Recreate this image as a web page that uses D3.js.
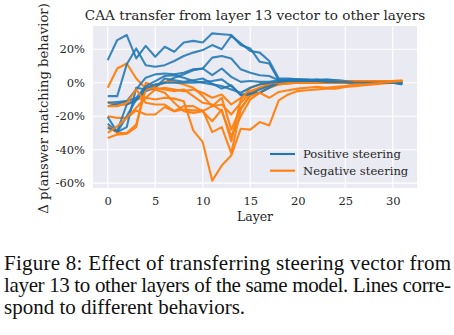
<!DOCTYPE html>
<html>
<head>
<meta charset="utf-8">
<script src="https://cdn.jsdelivr.net/npm/d3@7"></script>
<style>
  body { margin: 0; background: #fff; }
  svg { display: block; }
</style>
</head>
<body>
<div id="chart"></div>
<script>
// layers 0..31
const layers = d3.range(0, 32);

// positive steering, one row per behavior
const positive = [
  [13.5, 25.5, 28.5, 14.5, 22, 15.5, 21.5, 18.5, 24, 25, 24, 29.5, 29, 28.5, 22.5, 20.5, 12.5, 11.5, 1.5, 2, 2, 1.5, 2, 1.5, 1.5, 1, 1, 0.5, 0.5, 0, 0, -0.5],
  [-8, -8, 11, 20.5, 10.5, 9.5, 10.5, 13, 16, 18, 19.5, 22.5, 20, 28, 23.5, 19, 18, 13, 2.5, 2.5, 2, 2, 1.5, 2, 1.5, 1, 1, 1, 0.5, 0.5, 0, -0.5],
  [-14, -12.5, -11, -4, 3, 5, 5.5, 5, 6, 8, 8.5, 15, 16, 14.5, 8, 6, 4.5, 4, 1.5, 1, 1.5, 1, 1, 1, 0.5, 0.5, 0.5, 0, 0, 0, 0, -1],
  [-20.5, -29.5, -26.5, -3, -4, -2, 0, 3, 5, 7.5, 8.5, 4.5, 8.5, 3.5, 0.5, 1, 0.5, 0.5, 1.5, 1, 1, 1, 0.5, 0.5, 0.5, 0, 0, 0, 0, 0, 0, -0.5],
  [-24.5, -29.5, -20, -10, -5, -3, 2.5, 1.5, 0.5, 1.5, 2.5, -0.5, -3.5, -1.5, -7.5, -7, -4, -2, 0, 1, 1, 0.5, 0.5, 0.5, 0.5, 0, 0, 0, 0, 0, 0, 0],
  [-27, -29, -13, -10.5, -3, -1, 0, 0, 0, 0, 0.5, 1, 2, -2, -7, -6.5, -6, -3, 0, 0.5, 0.5, 0.5, 0.5, 0.5, 0, 0, 0, 0, 0, 0, 0, 0],
  [-12, -11.5, -11, -9, -2, 1, 4, 4.5, 3, 1, 0, -1, -2, -4, -6, -3, -1, 0, 0.5, 1, 1, 1, 1, 0.5, 0.5, 0.5, 0, 0, 0, 0, 0, 0]
];

// negative steering, same behaviors
const negative = [
  [-3, 8.5, 11.5, 2.5, -3.5, -4, -3, -4, -5, -4, -6, -9, -7, -13, -9, -5, -3, -2, -1, -0.5, 0, 0, 0.5, 0.5, 0.5, 0.5, 0.5, 0.5, 1, 1, 1, 1.5],
  [-11.5, -13.5, -13, -10, -9, -10, -9, -9.5, -11, -28.5, -35.5, -58.5, -49.5, -43.5, -27.5, -28, -23.5, -25.5, -10.5, -7, -5, -4.5, -4, -3.5, -3.5, -2.5, -2, -1.5, -1, -0.5, 0, 0.5],
  [-20, -21, -21, -16.5, -19, -19, -14.5, -17, -16, -16.5, -16.5, -29.5, -26.5, -42, -16, -7, -3, -1.5, -0.5, 0, 0, 0, 0, 0, 0.5, 0.5, 0.5, 1, 1, 1, 1, 1],
  [-33, -31, -30.5, -26.5, 0, -2, 0.5, 0.5, -1, -3, -8, -14, -13, -19, -12, -6, -3, -1, 0, 0.5, 0.5, 0.5, 0.5, 0.5, 0.5, 0.5, 1, 1, 1, 1, 1, 1],
  [-26, -30, -30, -25, -4, -3, -4, -5, -4, -8, -12, -13, -17, -32, -20, -10, -6, -3, -1, -0.5, 0, 0, 0, 0, 0, 0.5, 0.5, 0.5, 1, 1, 1, 1],
  [-30, -26, -21, -15, -9, -4, -6, -12, -17, -18, -17, -23, -16, -35, -10, -3, -1, -0.5, 0, 0, 0, 0, 0, 0, 0, 0, 0.5, 0.5, 0.5, 1, 1, 1],
  [-14, -14, -12, -4, -12, -13, -13, -17, -14, -14, -17, -14, -9, -28, -15, -8, -6, -9, -5.5, -4.5, -3.5, -3, -2.5, -3, -2.5, -2, -1, -1, -0.5, 0, 0.5, 1]
];

const xTicks = [0, 5, 10, 15, 20, 25, 30];
const yTicks = [-60, -40, -20, 0, 20];
const seriesNames = ["Positive steering", "Negative steering"];
const seriesColors = ["#1f77b4", "#ff7f0e"];

const captionLines = [
  "Figure 8: Effect of transferring steering vector from",
  "layer 13 to other layers of the same model. Lines corre-",
  "spond to different behaviors."
];

const W = 454, H = 335;
const margin = {top: 26, right: 37, bottom: 147, left: 93};
const width = W - margin.left - margin.right,
      height = H - margin.top - margin.bottom;

const svg = d3.select("#chart")
  .append("svg")
    .attr("width", W)
    .attr("height", H)
    .style("font-family", "'DejaVu Serif', serif");

const g = svg.append("g")
  .attr("transform", `translate(${margin.left},${margin.top})`);

// matplotlib-style 5% padding
const allVals = positive.flat().concat(negative.flat());
const yMin = d3.min(allVals), yMax = d3.max(allVals);
const yPad = (yMax - yMin) * 0.05;
const xPad = (d3.max(layers) - d3.min(layers)) * 0.05;

const x = d3.scaleLinear()
  .domain([d3.min(layers) - xPad, d3.max(layers) + xPad])
  .range([0, width]);

const y = d3.scaleLinear()
  .domain([yMin - yPad, yMax + yPad])
  .range([height, 0]);

g.append("rect")
  .attr("width", width)
  .attr("height", height)
  .attr("fill", "#eaeaf2");

// grid
g.selectAll(".xgrid")
  .data(xTicks)
  .enter().append("line")
    .attr("x1", d => x(d)).attr("x2", d => x(d))
    .attr("y1", 0).attr("y2", height)
    .attr("stroke", "#fff").attr("stroke-width", 1.1);

g.selectAll(".ygrid")
  .data(yTicks)
  .enter().append("line")
    .attr("y1", d => y(d)).attr("y2", d => y(d))
    .attr("x1", 0).attr("x2", width)
    .attr("stroke", "#fff").attr("stroke-width", 1.1);

// axes (no domain line, no tick marks, like seaborn darkgrid)
const xAxis = g.append("g")
  .attr("transform", `translate(0,${height})`)
  .call(d3.axisBottom(x).tickValues(xTicks).tickSize(0).tickPadding(9));

const yAxis = g.append("g")
  .call(d3.axisLeft(y).tickValues(yTicks).tickSize(0).tickPadding(8)
    .tickFormat(d => `${d}%`));

[xAxis, yAxis].forEach(a => {
  a.select(".domain").remove();
  a.selectAll("text")
    .attr("fill", "#262626")
    .style("font-family", "'DejaVu Serif', serif")
    .style("font-size", "11.5px");
});

const line = d3.line()
  .x((d, i) => x(layers[i]))
  .y(d => y(d));

// draw behavior by behavior: positive then negative
positive.forEach((p, i) => {
  g.append("path")
    .datum(p)
    .attr("d", line)
    .attr("fill", "none")
    .attr("stroke", seriesColors[0])
    .attr("stroke-opacity", 0.88)
    .attr("stroke-width", 2.1)
    .attr("stroke-linejoin", "round");
  g.append("path")
    .datum(negative[i])
    .attr("d", line)
    .attr("fill", "none")
    .attr("stroke", seriesColors[1])
    .attr("stroke-opacity", 0.95)
    .attr("stroke-width", 2.1)
    .attr("stroke-linejoin", "round");
});

// legend
const legend = g.append("g")
  .attr("transform", `translate(${width - 147},${height - 34})`);

seriesNames.forEach((name, i) => {
  legend.append("line")
    .attr("x1", 0).attr("x2", 25)
    .attr("y1", i * 16.7).attr("y2", i * 16.7)
    .attr("stroke", seriesColors[i])
    .attr("stroke-width", 2.1);
  legend.append("text")
    .attr("x", 33)
    .attr("y", i * 16.7)
    .attr("dy", "0.35em")
    .attr("fill", "#262626")
    .style("font-size", "11.6px")
    .text(name);
});

// title and axis labels
svg.append("text")
  .attr("x", margin.left + width / 2)
  .attr("y", 19.5)
  .attr("text-anchor", "middle")
  .attr("fill", "#262626")
  .style("font-size", "13.6px")
  .text("CAA transfer from layer 13 vector to other layers");

svg.append("text")
  .attr("x", margin.left + width / 2)
  .attr("y", 221)
  .attr("text-anchor", "middle")
  .attr("fill", "#262626")
  .style("font-size", "12.5px")
  .text("Layer");

svg.append("text")
  .attr("transform", `translate(48,${margin.top + height / 2 + 1.5}) rotate(-90)`)
  .attr("text-anchor", "middle")
  .attr("fill", "#262626")
  .style("font-size", "13.2px")
  .text("\u0394 p(answer matching behavior)");

// caption below figure
const cap = svg.append("g")
  .style("font-family", "'Liberation Serif', 'Times New Roman', serif")
  .style("font-size", "21px")
  .attr("fill", "#111");

captionLines.forEach((t, i) => {
  const txt = cap.append("text")
    .attr("x", 4)
    .attr("y", 270 + i * 22)
    .text(t);
  if (i < captionLines.length - 1) {
    txt.attr("textLength", 447).attr("lengthAdjust", "spacing");
  }
});
</script>
</body>
</html>
